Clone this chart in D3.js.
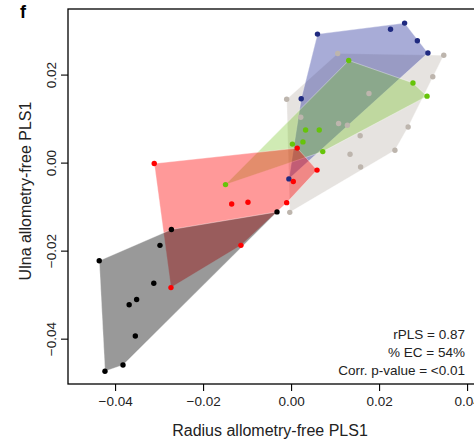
<!DOCTYPE html>
<html>
<head>
<meta charset="utf-8">
<script src="https://cdn.jsdelivr.net/npm/d3@7"></script>
<style>
  html, body { margin: 0; padding: 0; background: #fff; }
  svg { display: block; font-family: "Liberation Sans", Arial, sans-serif; }
</style>
</head>
<body>
<div id="chart"></div>
<script>
// groups drawn in this order (gray first, black last)
const groupNames = ["gray", "blue", "green", "red", "black"];
const groupColors = ["#c0b9b1", "#25309a", "#6fc21a", "#ff0000", "#000000"];
const groupAlpha = [0.4, 0.4, 0.33, 0.4, 0.4];
const pointColors = ["#bdb5ad", "#1f2a80", "#66c40a", "#ff0000", "#000000"];

// x = Radius PLS1, y = Ulna PLS1
const grayX = [0.0106, 0.0347, 0.0322, -0.0010, 0.0177, 0.0022, 0.0108, 0.0128, 0.0157, 0.0266, 0.0236, 0.0134, 0.0158, -0.0003];
const grayY = [0.0248, 0.0244, 0.0195, 0.0144, 0.0157, 0.0103, 0.0089, 0.0085, 0.0061, 0.0081, 0.0028, 0.0019, -0.0010, -0.0113];
const blueX = [0.0060, 0.0226, 0.0258, 0.0287, 0.0311, 0.0023, -0.0005];
const blueY = [0.0292, 0.0303, 0.0317, 0.0277, 0.0249, 0.0145, -0.0037];
const greenX = [0.0131, 0.0277, 0.0309, 0.0033, 0.0064, 0.0003, 0.0027, 0.0072, -0.0149];
const greenY = [0.0232, 0.0181, 0.0151, 0.0074, 0.0074, 0.0042, 0.0047, 0.0025, -0.0050];
const redX = [-0.0311, 0.0014, 0.0059, 0.0005, -0.0135, -0.0098, -0.0010, -0.0114, -0.0273];
const redY = [-0.0002, 0.0033, -0.0017, -0.0043, -0.0094, -0.0090, -0.0091, -0.0188, -0.0284];
const blackX = [-0.0272, -0.0298, -0.0436, -0.0312, -0.0351, -0.0368, -0.0354, -0.0382, -0.0423, -0.0032];
const blackY = [-0.0152, -0.0188, -0.0223, -0.0274, -0.0311, -0.0323, -0.0394, -0.0460, -0.0474, -0.0112];

const xTicks = [-0.04, -0.02, 0.00, 0.02, 0.04];
const yTicks = [-0.04, -0.02, 0.00, 0.02];
const statLines = ["rPLS = 0.87", "% EC = 54%", "Corr. p-value = <0.01"];

const groupsX = [grayX, blueX, greenX, redX, blackX];
const groupsY = [grayY, blueY, greenY, redY, blackY];

const W = 474, H = 443;
const plot = { left: 68, top: 9, right: 475, bottom: 384 };

const x = d3.scaleLinear().domain([-0.0507, 0.0418]).range([plot.left, plot.right]);
const y = d3.scaleLinear().domain([-0.0503, 0.0349]).range([plot.bottom, plot.top]);

const svg = d3.select("#chart").append("svg")
  .attr("width", W).attr("height", H);

// hulls
const hullLayer = svg.append("g");
groupNames.forEach((name, i) => {
  const pts = groupsX[i].map((v, k) => [x(v), y(groupsY[i][k])]);
  const hull = d3.polygonHull(pts);
  hullLayer.append("path")
    .attr("d", "M" + hull.join("L") + "Z")
    .attr("fill", groupColors[i])
    .attr("fill-opacity", groupAlpha[i])
    .attr("stroke", "#ffffff")
    .attr("stroke-opacity", 0.45)
    .attr("stroke-width", 0.8);
});

// points
const ptLayer = svg.append("g");
groupNames.forEach((name, i) => {
  ptLayer.selectAll(null)
    .data(groupsX[i].map((v, k) => [v, groupsY[i][k]]))
    .enter().append("circle")
    .attr("cx", d => x(d[0]))
    .attr("cy", d => y(d[1]))
    .attr("r", 2.7)
    .attr("fill", pointColors[i]);
});

// box
svg.append("rect")
  .attr("x", plot.left).attr("y", plot.top)
  .attr("width", plot.right - plot.left).attr("height", plot.bottom - plot.top)
  .attr("fill", "none").attr("stroke", "#000").attr("stroke-width", 1.3);

const fmt = d3.format(".2f");
const tickFmt = v => fmt(v).replace("-", "\u2212");

// x axis
const xAxis = svg.append("g")
  .attr("transform", `translate(0,${plot.bottom})`)
  .call(d3.axisBottom(x).tickValues(xTicks).tickFormat(tickFmt).tickSize(7).tickPadding(5).tickSizeOuter(0));
xAxis.select(".domain").remove();
xAxis.selectAll("line").attr("stroke", "#000").attr("stroke-width", 1.1);
xAxis.selectAll("text").attr("fill", "#222").style("font-size", "13.5px")
  .style("font-family", "Liberation Sans, Arial, sans-serif");

// y axis
const yAxis = svg.append("g")
  .attr("transform", `translate(${plot.left},0)`)
  .call(d3.axisLeft(y).tickValues(yTicks).tickFormat(tickFmt).tickSize(7).tickSizeOuter(0));
yAxis.select(".domain").remove();
yAxis.selectAll("line").attr("stroke", "#000").attr("stroke-width", 1.1);
yAxis.selectAll("text")
  .attr("fill", "#222")
  .style("font-size", "13.5px")
  .style("font-family", "Liberation Sans, Arial, sans-serif")
  .attr("x", null).attr("dy", null)
  .attr("text-anchor", "middle")
  .attr("transform", "translate(-12,0) rotate(-90)");

// axis titles
svg.append("text")
  .attr("x", 270).attr("y", 436)
  .attr("text-anchor", "middle")
  .attr("fill", "#222")
  .style("font-size", "16px")
  .text("Radius allometry-free PLS1");

svg.append("text")
  .attr("transform", "translate(31,191) rotate(-90)")
  .attr("text-anchor", "middle")
  .attr("fill", "#222")
  .style("font-size", "16px")
  .text("Ulna allometry-free PLS1");

// panel letter
svg.append("text")
  .attr("x", 20).attr("y", 18)
  .attr("fill", "#000")
  .style("font-size", "18px")
  .style("font-weight", "bold")
  .text("f");

// stats
svg.append("g").selectAll("text")
  .data(statLines)
  .enter().append("text")
  .attr("x", 465)
  .attr("y", (d, i) => 339 + i * 18)
  .attr("text-anchor", "end")
  .attr("fill", "#222")
  .style("font-size", "13.5px")
  .text(d => d);
</script>
</body>
</html>
